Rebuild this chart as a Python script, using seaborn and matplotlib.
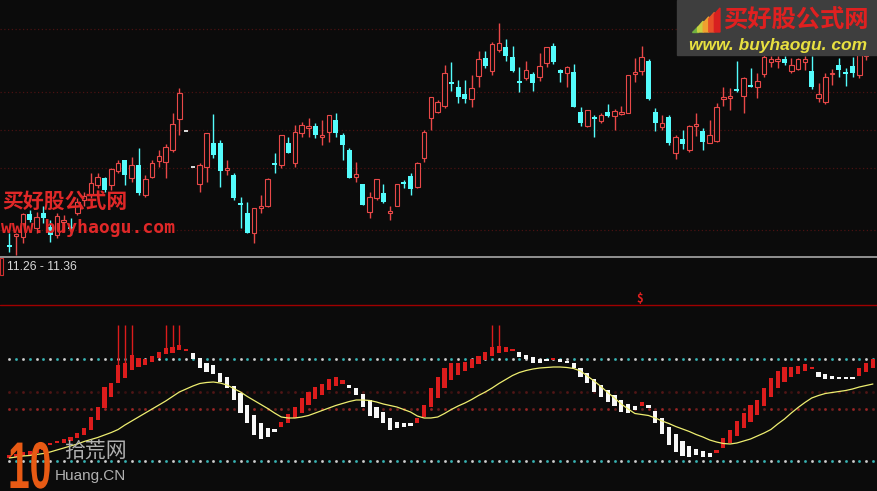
import numpy as np
import matplotlib
matplotlib.use("Agg")
import matplotlib.pyplot as plt
import matplotlib.transforms as mtransforms
from matplotlib.patches import Rectangle, Polygon, PathPatch
from matplotlib.textpath import TextPath
from matplotlib.font_manager import FontProperties
import seaborn as sns

# daily candles (price level units)
open_ = [15, 24, 23, 46, 32, 47, 33, 25, 38, 33,
         47, 60, 65, 75, 82, 75, 89, 100, 82, 95,
         65, 83, 99, 98, 110, 141, 129, 93, 76, 93,
         117, 117, 90, 85, 57, 47, 27, 52, 54, 97,
         95, 117, 97, 127, 132, 134, 123, 128, 140, 125,
         110, 83, 76, 48, 62, 67, 47, 54, 78, 84,
         73, 102, 142, 148, 154, 178, 173, 166, 161, 184,
         202, 189, 210, 213, 203, 179, 182, 186, 183, 197,
         214, 190, 187, 188, 148, 134, 143, 139, 148, 144,
         146, 147, 186, 189, 199, 148, 133, 143, 107, 121,
         110, 134, 129, 117, 119, 161, 162, 171, 164, 175,
         173, 186, 198, 199, 201, 189, 191, 198, 189, 162,
         158, 186, 195, 188, 194, 185, 204, 222]
close = [13, 26, 46, 40, 43, 42, 25, 44, 40, 31,
         58, 64, 77, 83, 70, 91, 97, 85, 95, 67,
         81, 97, 104, 113, 136, 167, 129, 93, 95, 127,
         105, 89, 92, 62, 55, 27, 52, 54, 81, 95,
         125, 107, 128, 135, 134, 125, 125, 145, 127, 115,
         82, 86, 55, 63, 81, 58, 49, 76, 76, 71,
         97, 128, 163, 158, 187, 176, 163, 161, 172, 201,
         194, 216, 217, 204, 189, 177, 190, 177, 194, 213,
         198, 187, 193, 153, 137, 150, 141, 145, 144, 149,
         148, 185, 188, 203, 161, 137, 137, 117, 123, 116,
         134, 136, 118, 125, 153, 163, 164, 169, 182, 173,
         179, 203, 201, 201, 197, 195, 201, 201, 173, 166,
         183, 187, 190, 186, 187, 205, 220, 215]
high = [27, 27, 47, 50, 48, 54, 40, 47, 45, 42,
        62, 68, 87, 87, 83, 92, 100, 100, 103, 112,
        85, 100, 110, 116, 147, 172, 129, 93, 97, 127,
        146, 120, 100, 87, 63, 58, 52, 65, 82, 107,
        125, 123, 135, 138, 142, 137, 140, 145, 147, 127,
        112, 98, 76, 68, 81, 76, 54, 76, 80, 87,
        98, 130, 163, 160, 195, 198, 180, 180, 185, 209,
        209, 218, 237, 221, 214, 193, 199, 188, 207, 213,
        217, 191, 194, 196, 153, 150, 145, 147, 156, 151,
        154, 185, 202, 214, 201, 152, 145, 145, 125, 130,
        135, 147, 132, 140, 157, 173, 172, 199, 183, 192,
        187, 205, 204, 204, 204, 202, 202, 204, 204, 177,
        187, 191, 202, 192, 203, 215, 225, 230]
low = [8, 5, 17, 38, 27, 37, 18, 22, 28, 25,
       45, 54, 62, 72, 68, 70, 87, 75, 78, 65,
       63, 82, 93, 82, 108, 125, 129, 93, 68, 78,
       102, 73, 85, 60, 32, 27, 17, 47, 53, 87,
       92, 107, 93, 123, 123, 122, 115, 118, 123, 100,
       82, 78, 55, 42, 60, 57, 40, 54, 72, 65,
       72, 98, 130, 147, 152, 169, 157, 157, 153, 173,
       192, 185, 208, 199, 188, 168, 180, 169, 179, 193,
       196, 178, 173, 153, 134, 133, 123, 137, 143, 130,
       145, 147, 178, 185, 160, 129, 130, 115, 101, 111,
       108, 124, 110, 117, 118, 154, 150, 168, 147, 173,
       162, 183, 193, 192, 195, 187, 190, 190, 171, 158,
       156, 175, 183, 174, 183, 182, 200, 210]

# indicator bars: upper / lower value, colour state (r = rising, w = falling)
ind_hi = [15, 16, 18, 19, 21, 24, 27, 29, 31, 33,
          37, 42, 53, 63, 83, 87, 105, 107, 115, 112,
          111, 114, 118, 122, 123, 125, 121, 117, 112, 107,
          105, 97, 93, 84, 77, 65, 55, 47, 42, 41,
          48, 56, 63, 72, 78, 83, 86, 91, 93, 90,
          85, 82, 76, 70, 63, 58, 52, 48, 47, 47,
          52, 65, 82, 93, 102, 107, 107, 108, 111, 114,
          118, 123, 124, 123, 121, 118, 115, 113, 111, 111,
          112, 111, 109, 107, 102, 97, 91, 85, 80, 75,
          70, 66, 64, 68, 65, 59, 52, 43, 36, 29,
          24, 21, 19, 17, 20, 32, 40, 49, 57, 65,
          70, 82, 92, 99, 103, 103, 104, 106, 103, 98,
          96, 94, 93, 93, 93, 102, 107, 111]
ind_lo = [12, 13, 14, 15, 17, 20, 25, 27, 27, 29,
          32, 35, 40, 50, 62, 73, 87, 92, 100, 103,
          105, 108, 112, 116, 117, 120, 119, 111, 102, 98,
          96, 88, 82, 70, 57, 47, 35, 31, 33, 38,
          43, 47, 52, 57, 65, 71, 75, 80, 84, 86,
          82, 75, 63, 54, 52, 47, 40, 42, 43, 44,
          47, 53, 63, 72, 82, 90, 95, 99, 102, 106,
          110, 114, 117, 118, 119, 113, 111, 107, 107, 109,
          110, 108, 107, 102, 93, 87, 78, 73, 68, 64,
          58, 57, 60, 64, 62, 47, 36, 25, 18, 14,
          13, 15, 13, 13, 17, 22, 27, 34, 42, 48,
          55, 64, 73, 82, 88, 93, 96, 99, 101, 93,
          91, 91, 91, 91, 91, 94, 98, 102]
ind_state = ("rrrrrrrrrrrrrrrrrrrrrrrrrrr" "wwwwwwwwwwwww" "rrrrrrrrrr" "wwwwwwwwww"
             "rrrrrrrrrrrrrrr" "wwwww" "r" "wwwwwwwwwwww" "r" "wwwwwwwwww"
             "rrrrrrrrrrrrrrr" "wwwwww" "rrr")
ma_line = [12, 13, 14, 14.5, 15.5, 16.5, 18, 20, 22, 24,
           26, 28.5, 30.5, 32.5, 35, 37.5, 40.5, 45, 49, 53,
           57, 61, 65, 69, 73.5, 78, 81, 84, 86.5, 87.5,
           88, 87, 85, 81.5, 78, 73.5, 69.5, 65.5, 61.5, 57,
           53, 52, 52, 53, 54.5, 57, 59.5, 62, 64.5, 66.5,
           68.5, 70, 70, 69.5, 68, 66, 64.5, 63, 60.5, 58,
           54, 52, 52, 53, 56.5, 60.5, 64, 67, 70.5, 74.5,
           78, 82, 86.5, 90.5, 94.5, 97.5, 99.5, 101, 102, 102.5,
           103, 103, 102.5, 101.5, 99, 94, 89, 83.5, 77.5, 72,
           66, 61, 56.5, 55.5, 54.5, 52, 49, 46.5, 43.5, 41,
           38.5, 35.5, 33, 30, 28, 26.5, 26, 27, 29, 31,
           34, 37, 40.5, 46, 51, 57, 62.5, 67.5, 72, 74.5,
           76.5, 77.5, 78.5, 79.5, 81, 83, 84.5, 86]
signals = [16, 17, 18, 23, 24, 25, 71, 72]
signal_top = 145
price_grid = [231, 168, 130, 92, 30]
ind_levels = [111, 78, 61, 9]
ind_base = 165

BG = "#0b0b0b"
RED = "#e84848"
CYAN = "#54fcfc"
BAR_RED = "#dc1c1c"
YELLOW = "#eeee70"

sns.set_theme(style="dark", rc={"axes.facecolor": BG, "figure.facecolor": BG})
plt.rcParams["font.family"] = ["Noto Sans CJK SC", "DejaVu Sans"]

fig = plt.figure(figsize=(8.78, 4.91), dpi=100)
top_h = 256 / 491
ax = fig.add_axes([0, 1 - top_h, 1, top_h])
ax2 = fig.add_axes([0, 0, 1, 1 - top_h])
for a in (ax, ax2):
    a.set_xlim(-1.37, 127.75)
    a.set_axis_off()
ax.set_ylim(4, 260)
ax2.set_ylim(-21, 214)

x = np.arange(len(open_))
o, c, h, l = (np.array(v, dtype=float) for v in (open_, close, high, low))
flat = h == l
up = (c >= o) & ~flat
dn = c < o

for lev in price_grid:
    ax.axhline(lev, color="#4a1212", lw=0.9, ls=(0, (1, 2)), zorder=0)

# hollow red candles
ax.vlines(x[up], c[up], h[up], color=RED, lw=1)
ax.vlines(x[up], l[up], o[up], color=RED, lw=1)
ax.bar(x[up], np.maximum(c[up] - o[up], 1), bottom=o[up], width=0.68,
       facecolor=BG, edgecolor=RED, linewidth=0.8, zorder=3)
# filled cyan candles
ax.vlines(x[dn], l[dn], h[dn], color=CYAN, lw=1)
ax.bar(x[dn], np.maximum(o[dn] - c[dn], 1.5), bottom=c[dn], width=0.72,
       color=CYAN, linewidth=0, zorder=3)
ax.hlines(h[flat], x[flat] - 0.32, x[flat] + 0.32, color="white", lw=1.2)

# indicator panel
hi_a = np.array(ind_hi, dtype=float)
lo_a = np.array(ind_lo, dtype=float)
for lev in ind_levels:
    if lev in (111, 9):
        c1, c2 = "#d0d0d0", "#38b4b4"
    elif lev == 61:
        c1, c2 = "#9a2626", "#6a1e1e"
    else:
        c1, c2 = "#521616", "#361010"
    ax2.plot(x[::2], np.full(len(x[::2]), lev), ls="none", marker="s", ms=0.9, color=c1, zorder=1)
    ax2.plot(x[1::2], np.full(len(x[1::2]), lev), ls="none", marker="s", ms=0.9, color=c2, zorder=1)
ax2.axhline(ind_base, color="#a00000", lw=1)
ax2.axhline(213.3, color="#a8a8a8", lw=1.2)

bar_cols = [BAR_RED if s == "r" else "#f8f8f8" for s in ind_state]
ax2.bar(x, np.maximum(hi_a - lo_a, 2), bottom=lo_a, width=0.62, color=bar_cols, linewidth=0, zorder=3)
ax2.vlines(signals, hi_a[signals], signal_top, color=BAR_RED, lw=1, zorder=3)
sns.lineplot(x=x, y=ma_line, ax=ax2, color=YELLOW, lw=0.9, zorder=4)
ax2.set_axis_off()

# overlay in pixel coordinates for header text and watermarks
ov = fig.add_axes([0, 0, 1, 1])
ov.set_xlim(0, 878)
ov.set_ylim(491, 0)
ov.set_axis_off()

ov.add_patch(Rectangle((0.5, 258), 3, 17, fill=False, ec="#d03030", lw=0.8))
ov.text(7, 266.5, "11.26 - 11.36", family=["Liberation Sans", "DejaVu Sans"], size=8.7,
        color="#d8d8d8", va="center", ha="left")
ov.text(640, 299, "$", color="#e02020", size=8, ha="center", va="center", weight="bold")

# left watermark
ov.text(2, 201, "买好股公式网", color="#e02828", size=15, weight="bold", va="center", ha="left")
ov.text(1, 228, "www.buyhaogu.com", color="#e02828", size=13, weight="bold",
        family=["DejaVu Sans Mono"], va="center", ha="left")

# right logo
ov.add_patch(Rectangle((677, 0), 201, 55, color="#3e3e3e", zorder=5))
stripes = ["#70b040", "#c8d040", "#f0a030", "#e85028", "#d82020"]
for i, col in enumerate(stripes):
    x0 = 692 + i * 5.6
    ov.add_patch(Polygon([(x0, 32), (x0 + 5.6, 32), (x0 + 5.6, 30 - (i + 1) * 4.4), (x0, 32 - i * 4.4)],
                         closed=True, color=col, zorder=6))
ov.text(796, 20, "买好股公式网", color="#e02020", size=17.5, weight="bold",
        ha="center", va="center", zorder=7)
ov.text(778, 45, "www. buyhaogu. com", color="#e8e040", size=12.5, weight="bold", style="italic",
        family=["Liberation Sans", "DejaVu Sans"], ha="center", va="center", zorder=7)

# bottom-left watermark: condensed "10"
ten = TextPath((0, 0), "10", size=1, prop=FontProperties(family="Liberation Sans", weight="bold"))
ten_tf = mtransforms.Affine2D().scale(39, -66) + mtransforms.Affine2D().translate(8, 488) + ov.transData
ov.add_patch(PathPatch(ten, transform=ten_tf, color="#e85a14", lw=0, zorder=7))
ov.text(64, 451, "拾荒网", color="#b0b0b0", size=15, va="center", ha="left", zorder=7)
ov.text(55, 476, "Huang.CN", color="#b0b0b0", size=11, family=["Liberation Sans", "DejaVu Sans"],
        va="center", ha="left", zorder=7)

fig.savefig("out.png", dpi=100, facecolor=BG)
